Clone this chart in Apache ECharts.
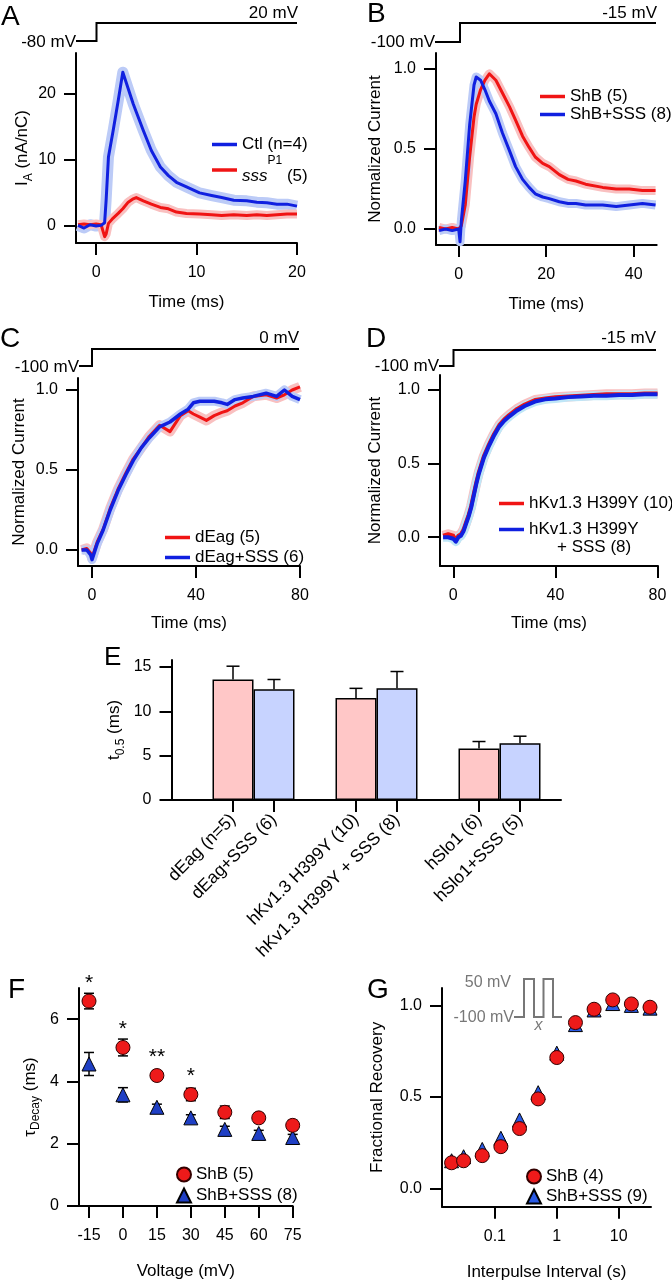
<!DOCTYPE html>
<html><head><meta charset="utf-8">
<script src="https://cdn.jsdelivr.net/npm/echarts@6/dist/echarts.min.js"></script>
<style>html,body{margin:0;padding:0;background:#fff}#c{width:672px;height:1280px}</style>
</head><body><div id="c"></div>
<script>
// ---------- Panel A ----------
const aTime = [-1.8,-1.2,-0.6,0,0.5,0.85,1.0,1.23,1.7,2.2,2.66,3.2,3.7,4.0,4.7,5.5,6.4,7.2,8.0,9.0,10.3,11.5,12.5,13.7,15.0,16.0,17.0,18.0,19.0,20.0];
const aCtl  = [0.1,-0.3,0.2,0,0.1,0.5,3.9,10.4,14.4,18.9,23.2,20.7,18.4,17.2,14.4,11.4,8.9,7.6,6.6,5.9,5.0,4.6,4.3,3.9,3.8,3.6,3.5,3.3,3.3,3.0];
const aSss  = [0.2,0.3,0.2,0.3,0.2,-1.6,-1.2,0.4,1.2,1.9,2.6,3.6,4.1,4.3,3.8,3.3,2.8,2.6,2.1,1.9,1.8,1.7,1.6,1.7,1.6,1.7,1.6,1.7,1.8,1.8];
// ---------- Panel B ----------
const bTime = [-4.5,-3,-1.5,0,0.3,0.6,1.5,2.5,3.5,4.0,5,6,7,8.5,10,11.6,13,14.6,16.1,17.5,19.2,20.7,23,25,26.8,29,32.9,36,39,42,45];
const bShB  = [0.01,0.0,0.01,0.0,0.0,0.02,0.15,0.45,0.7,0.78,0.87,0.93,0.97,0.93,0.85,0.765,0.68,0.58,0.51,0.45,0.41,0.39,0.34,0.31,0.30,0.28,0.26,0.25,0.25,0.24,0.24];
const bSss  = [-0.01,0.0,-0.01,0.0,-0.08,0.05,0.3,0.65,0.9,0.95,0.93,0.87,0.8,0.72,0.6,0.49,0.39,0.31,0.26,0.22,0.2,0.19,0.17,0.16,0.16,0.15,0.15,0.14,0.15,0.16,0.15];
// ---------- Panel C ----------
const cTime = [-4,-2,-0.5,0,1,2,4.3,7,10,13,15.9,19,22,26,30,34,37,39,41.5,44,47,50,52,55,58,62,67,71,74,77,80];
const cEag  = [0,0.01,-0.02,-0.05,0,0.05,0.13,0.26,0.38,0.48,0.57,0.64,0.71,0.78,0.74,0.84,0.87,0.85,0.83,0.81,0.84,0.86,0.87,0.9,0.92,0.96,0.97,0.95,0.97,1.0,1.02];
const cSss  = [0,0.0,-0.03,-0.06,-0.01,0.04,0.125,0.25,0.37,0.47,0.56,0.64,0.7,0.77,0.8,0.85,0.88,0.92,0.93,0.93,0.93,0.92,0.91,0.94,0.95,0.96,0.98,0.96,1.0,0.96,0.94];
// ---------- Panel D ----------
const dTime = [-4,-2,0,1,2,3,4,5,6,7,8,9,10,12,14,16,18,20,22,25,28,32,36,40,45,50,55,60,65,70,75,80];
const dKv   = [0.01,0.02,0.01,-0.02,0.01,0.02,0.05,0.1,0.15,0.21,0.29,0.37,0.44,0.55,0.63,0.7,0.76,0.8,0.83,0.87,0.9,0.93,0.94,0.95,0.955,0.96,0.965,0.97,0.97,0.97,0.975,0.975];
const dSss  = [0.0,0.0,-0.01,-0.03,0.0,0.01,0.04,0.09,0.14,0.2,0.28,0.36,0.43,0.54,0.62,0.69,0.75,0.79,0.82,0.86,0.89,0.92,0.935,0.94,0.95,0.955,0.96,0.96,0.965,0.965,0.97,0.97];
// ---------- Panel E ----------
const eCategories = ['dEag (n=5)','dEag+SSS (6)','hKv1.3 H399Y (10)','hKv1.3 H399Y + SSS (8)','hSlo1 (6)','hSlo1+SSS (5)'];
const eValues = [13.6,12.5,11.5,12.6,5.8,6.4];
const eErrors = [1.5,1.1,1.1,1.9,0.8,0.8];
// ---------- Panel F ----------
const fVoltage = [-15,0,15,30,45,60,75];
const fShB    = [6.58,5.09,4.19,3.58,3.01,2.83,2.59];
const fShBErr = [0.25,0.27,0.15,0.2,0.2,0.15,0.16];
const fSss    = [4.56,3.57,3.17,2.83,2.46,2.33,2.2];
const fSssErr = [0.37,0.23,0.1,0.1,0.1,0.1,0.1];
const fSig    = ['*','*','**','*','','',''];
// ---------- Panel G ----------
const gInterval = [0.02,0.03125,0.0625,0.125,0.25,0.5,1,2,4,8,16,32];
const gShB = [0.14,0.151,0.179,0.228,0.327,0.489,0.715,0.906,0.979,1.03,1.008,0.99];
const gSss = [0.151,0.173,0.213,0.274,0.374,0.523,0.739,0.895,0.975,1.01,1.0,0.985];

const FONT = '"Liberation Sans", Arial, Helvetica, sans-serif';
const BLK = '#000';
const BLUE = '#1020e0', RED = '#f01414';
const BLUE_BAND = '#bccbf7', RED_BAND = '#f9c0c0', CYAN_BAND = '#bfe6f7';
const NAME_FS = 17, TICK_FS = 16, LEG_FS = 17;

function axisBase(gridIndex, min, max, ticks, fmt) {
  const a = {
    type: 'value', gridIndex, min, max,
    axisLine: { show: true, onZero: false, lineStyle: { color: BLK, width: 2 } },
    axisTick: { show: true, length: 12, lineStyle: { color: BLK, width: 2 }, customValues: ticks },
    axisLabel: { show: true, color: BLK, fontSize: TICK_FS, fontFamily: FONT, customValues: ticks },
    splitLine: { show: false },
    nameLocation: 'middle',
    nameTextStyle: { color: BLK, fontSize: NAME_FS, fontFamily: FONT }
  };
  if (fmt) a.axisLabel.formatter = fmt;
  return a;
}
function xAx(gi, min, max, ticks, name, gap, fmt) {
  const a = axisBase(gi, min, max, ticks, fmt);
  a.position = 'bottom'; a.axisLabel.margin = 22; a.name = name; a.nameGap = gap;
  return a;
}
function yAx(gi, min, max, ticks, name, gap, fmt, rich) {
  const a = axisBase(gi, min, max, ticks, fmt);
  a.position = 'left'; a.axisLabel.margin = 20; a.name = name; a.nameGap = gap; a.nameRotate = 90;
  if (rich) a.nameTextStyle.rich = rich;
  return a;
}
const f1 = v => Number(v).toFixed(1);
const subRich = {
  m: { fontSize: NAME_FS, fontFamily: FONT, color: BLK, lineHeight: 24, verticalAlign: 'middle' },
  s: { fontSize: 12, fontFamily: FONT, color: BLK, lineHeight: 24, verticalAlign: 'bottom' }
};

const grids = [
  { left: 76, top: 53, width: 221, height: 190 },     // A
  { left: 436, top: 53, width: 220.7, height: 192 },  // B
  { left: 78, top: 378, width: 222, height: 188 },    // C
  { left: 440, top: 375, width: 218, height: 191 },   // D
  { left: 171.5, top: 660, width: 389.5, height: 140 }, // E
  { left: 79, top: 988, width: 213.7, height: 218 },  // F
  { left: 442, top: 988, width: 209, height: 218.7 }  // G
].map(g => Object.assign(g, { outerBoundsMode: 'none', containLabel: false }));

const eSlots = eCategories.map((_, i) => Math.floor(i / 2) * 3 + (i % 2));

const xAxes = [
  xAx(0, -2, 20, [0, 10, 20], 'Time (ms)', 51),
  xAx(1, -5.19, 45.26, [0, 20, 40], 'Time (ms)', 51),
  xAx(2, -5.38, 80, [0, 40, 80], 'Time (ms)', 49),
  xAx(3, -5.2, 80.2, [0, 40, 80], 'Time (ms)', 49),
  (function () {
    const a = xAx(4, -1.5, 8, eSlots, '', 0, v => eCategories[eSlots.indexOf(Math.round(v))] || '');
    a.axisLabel.rotate = 45; a.axisLabel.margin = 17; a.axisLabel.hideOverlap = false; a.axisLabel.fontSize = 17.5;
    return a;
  })(),
  xAx(5, -19.42, 75, fVoltage, 'Voltage (mV)', 57),
  (function () {
    const a = xAx(6, 0.014, 33.2, [0.1, 1, 10], 'Interpulse Interval (s)', 57, v => String(+Number(v).toPrecision(3)));
    a.type = 'log'; a.logBase = 10;
    return a;
  })()
];
const yAxes = [
  yAx(0, -2.56, 26.1, [0, 10, 20], '{m|I}{s|A}{m| (nA/nC)}', 41, null, subRich),
  yAx(1, -0.1, 1.1, [0, 0.5, 1], 'Normalized Current', 52, f1),
  yAx(2, -0.1, 1.075, [0, 0.5, 1], 'Normalized Current', 50, f1),
  yAx(3, -0.195, 1.1, [0, 0.5, 1], 'Normalized Current', 56, f1),
  (function () {
    const a = yAx(4, 0, 15.8, [0, 5, 10, 15], '{m|t}{s|0.5}{m| (ms)}', 45, null, subRich);
    a.nameMoveOverlap = false;
    return a;
  })(),
  yAx(5, 0, 7, [0, 2, 4, 6], '{m|τ}{s|Decay}{m| (ms)}', 37, null, subRich),
  yAx(6, -0.1, 1.095, [0, 0.5, 1], 'Fractional Recovery', 56, f1)
];

function zip(t, v) { return t.map((x, i) => [x, v[i]]); }
function trace(name, gi, t, v, color, width, z) {
  return { name, type: 'line', xAxisIndex: gi, yAxisIndex: gi, data: zip(t, v), symbol: 'none', showSymbol: false,
    lineStyle: { color, width, join: 'round' }, itemStyle: { color }, silent: true, z };
}
function errSeries(gi, data, cap, both, z) {
  return { type: 'custom', xAxisIndex: gi, yAxisIndex: gi, silent: true, data, z,
    renderItem(params, api) {
      const x = api.value(0), lo = api.value(1), hi = api.value(2);
      const a = api.coord([x, lo]), b = api.coord([x, hi]);
      const st = { stroke: BLK, lineWidth: 1.5 };
      const ch = [
        { type: 'line', shape: { x1: a[0], y1: a[1], x2: b[0], y2: b[1] }, style: st },
        { type: 'line', shape: { x1: b[0] - cap, y1: b[1], x2: b[0] + cap, y2: b[1] }, style: st }
      ];
      if (both) ch.push({ type: 'line', shape: { x1: a[0] - cap, y1: a[1], x2: a[0] + cap, y2: a[1] }, style: st });
      return { type: 'group', children: ch };
    } };
}

const series = [
  // A
  trace('Ctl band', 0, aTime, aCtl, BLUE_BAND, 11, 1),
  trace('sss band', 0, aTime, aSss, RED_BAND, 9, 1),
  trace('sssP1 (5)', 0, aTime, aSss, RED, 3, 3),
  trace('Ctl (n=4)', 0, aTime, aCtl, BLUE, 3, 4),
  // B
  trace('ShB band', 1, bTime, bShB, RED_BAND, 9, 1),
  trace('ShB+SSS band', 1, bTime, bSss, BLUE_BAND, 9, 1),
  trace('ShB (5)', 1, bTime, bShB, RED, 3, 3),
  trace('ShB+SSS (8)', 1, bTime, bSss, BLUE, 3, 4),
  // C
  trace('dEag band', 2, cTime, cEag, RED_BAND, 10, 1),
  trace('dEag+SSS band', 2, cTime, cSss, BLUE_BAND, 9, 1),
  trace('dEag (5)', 2, cTime, cEag, RED, 3, 3),
  trace('dEag+SSS (6)', 2, cTime, cSss, BLUE, 3.5, 4),
  // D
  trace('hKv band', 3, dTime, dKv, RED_BAND, 10, 1),
  trace('hKv+SSS band', 3, dTime, dSss, CYAN_BAND, 9, 1),
  trace('hKv1.3 H399Y (10)', 3, dTime, dKv, RED, 4, 3),
  trace('hKv1.3 H399Y + SSS (8)', 3, dTime, dSss, BLUE, 4, 4),
  // E
  { type: 'bar', xAxisIndex: 4, yAxisIndex: 4, barWidth: 41, silent: true, z: 2,
    data: eValues.map((v, i) => ({ value: [eSlots[i], v], itemStyle: { color: i % 2 === 0 ? '#ffc7c7' : '#c7d3ff' } })),
    itemStyle: { borderColor: BLK, borderWidth: 1.5 } },
  errSeries(4, eValues.map((v, i) => [eSlots[i], v, v + eErrors[i]]), 6.5, false, 3),
  // F
  errSeries(5, fSss.map((v, i) => [fVoltage[i], v - fSssErr[i], v + fSssErr[i]]), 5, true, 2),
  errSeries(5, fShB.map((v, i) => [fVoltage[i], v - fShBErr[i], v + fShBErr[i]]), 5, true, 2),
  { name: 'ShB+SSS (8)\u200b', type: 'scatter', xAxisIndex: 5, yAxisIndex: 5, data: zip(fVoltage, fSss), symbol: 'triangle', symbolSize: 14,
    itemStyle: { color: '#1f3fc4', borderColor: BLK, borderWidth: 1, opacity: 1 }, silent: true, z: 4 },
  { name: 'ShB (5)\u200b', type: 'scatter', xAxisIndex: 5, yAxisIndex: 5, data: zip(fVoltage, fShB), symbol: 'circle', symbolSize: 14,
    itemStyle: { color: '#ee1a1a', borderColor: '#300', borderWidth: 1, opacity: 1 }, silent: true, z: 5,
    label: { show: true, position: 'top', distance: 0, formatter: p => fSig[p.dataIndex], fontSize: 21, fontFamily: FONT, color: BLK } },
  // G
  { name: 'ShB+SSS (9)', type: 'scatter', xAxisIndex: 6, yAxisIndex: 6, data: zip(gInterval, gSss), symbol: 'triangle', symbolSize: 14,
    itemStyle: { color: '#2a5be6', borderColor: BLK, borderWidth: 1, opacity: 1 }, silent: true, z: 4 },
  { name: 'ShB (4)', type: 'scatter', xAxisIndex: 6, yAxisIndex: 6, data: zip(gInterval, gShB), symbol: 'circle', symbolSize: 14,
    itemStyle: { color: '#ee1a1a', borderColor: '#300', borderWidth: 1, opacity: 1 }, silent: true, z: 5 }
];

const legTxt = { fontSize: LEG_FS, fontFamily: FONT, color: BLK };
function leg(left, top, data, gap, extra) {
  return Object.assign({ orient: 'vertical', left, top, padding: 0, itemGap: gap, itemWidth: 25, itemHeight: 3.5, icon: 'rect',
    selectedMode: false, data, textStyle: Object.assign({}, legTxt), formatter: n => n.replace('\u200b', '') }, extra || {});
}
const legends = [
  leg(212, 136, ['Ctl (n=4)', 'sssP1 (5)'], 2, {
    formatter: n => n === 'sssP1 (5)' ? '{i|sss}{p|P1}{n| (5)}' : n,
    textStyle: Object.assign({}, legTxt, { rich: {
      i: { fontSize: LEG_FS, fontFamily: FONT, fontStyle: 'italic', color: BLK, lineHeight: 30, verticalAlign: 'bottom' },
      p: { fontSize: 12, fontFamily: FONT, color: BLK, lineHeight: 30, verticalAlign: 'top' },
      n: { fontSize: LEG_FS, fontFamily: FONT, color: BLK, lineHeight: 30, verticalAlign: 'bottom' } } })
  }),
  leg(540, 88, ['ShB (5)', 'ShB+SSS (8)'], 1),
  leg(165, 529, ['dEag (5)', 'dEag+SSS (6)'], 3),
  leg(499, 495, ['hKv1.3 H399Y (10)'], 1),
  leg(499, 521, [{ name: 'hKv1.3 H399Y + SSS (8)', textStyle: { padding: [18, 0, 0, 0] } }], 1, {
    formatter: () => '{a|hKv1.3 H399Y}\n{b|+ SSS (8)}',
    textStyle: Object.assign({}, legTxt, { rich: {
      a: { fontSize: LEG_FS, fontFamily: FONT, color: BLK, lineHeight: 18 },
      b: { fontSize: LEG_FS, fontFamily: FONT, color: BLK, lineHeight: 18, padding: [0, 0, 0, 28] } } })
  }),
  leg(176, 1166, ['ShB (5)\u200b', 'ShB+SSS (8)\u200b'], 4, { itemWidth: 14, itemHeight: 14 }),
  leg(526, 1168, ['ShB (4)', 'ShB+SSS (9)'], 3, { itemWidth: 14, itemHeight: 14 })
];
delete legends[5].icon; delete legends[6].icon;

const graphics = [];
function txt(text, x, y, size, align, color, style) {
  graphics.push({ type: 'text', silent: true, z: 100, style: Object.assign({ text, x, y,
    font: (style || '') + ' ' + size + 'px ' + FONT, fill: color || BLK,
    align: align || 'left', textAlign: align || 'left', verticalAlign: 'middle', textVerticalAlign: 'middle' }) });
}
function poly(points, color, w) {
  graphics.push({ type: 'polyline', silent: true, z: 100, shape: { points }, style: { stroke: color || BLK, lineWidth: w || 2, fill: null } });
}
// panel letters
txt('A', 1, 17, 28); txt('B', 367, 14, 28); txt('C', 0, 339, 28); txt('D', 366, 339, 28);
txt('E', 104, 658, 26); txt('F', 8, 990, 28); txt('G', 367, 990, 28);
// voltage protocols
txt('20 mV', 298, 13, 17, 'right'); txt('-80 mV', 76, 42, 17, 'right');
poly([[76, 41], [96.5, 41], [96.5, 23], [297, 23]]);
txt('-15 mV', 657, 13, 17, 'right'); txt('-100 mV', 435, 42, 17, 'right');
poly([[435, 42], [460, 42], [460, 23], [656, 23]]);
txt('0 mV', 299, 338, 17, 'right'); txt('-100 mV', 79, 367, 17, 'right');
poly([[79, 366], [92, 366], [92, 349], [299, 349]]);
txt('-15 mV', 656, 338, 17, 'right'); txt('-100 mV', 439, 366, 17, 'right');
poly([[439, 366], [453.5, 366], [453.5, 350], [656, 350]]);
// G inset protocol
txt('50 mV', 511, 983, 16, 'right', '#777'); txt('-100 mV', 514, 1018, 16, 'right', '#777');
poly([[514, 1017], [524, 1017], [524, 979], [534, 979], [534, 1017], [543.5, 1017], [543.5, 979], [553, 979], [553, 1017], [562, 1017]], '#777', 2);
txt('x', 538.5, 1026, 16, 'center', '#777', 'italic');

const chart = echarts.init(document.getElementById('c'), null, { renderer: 'canvas' });
chart.setOption({
  animation: false,
  backgroundColor: '#fff',
  grid: grids, xAxis: xAxes, yAxis: yAxes, series, legend: legends, graphic: graphics
});
</script></body></html>
